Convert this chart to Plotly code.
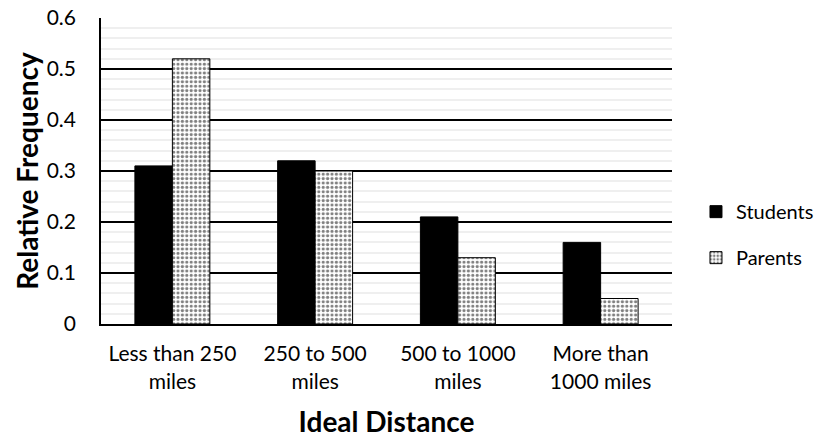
import plotly.graph_objects as go

categories = ["Less than 250<br>miles", "250 to 500<br>miles", "500 to 1000<br>miles", "More than<br>1000 miles"]
students = [0.31, 0.32, 0.21, 0.16]
parents = [0.52, 0.30, 0.13, 0.05]
y_ticks = [0, 0.1, 0.2, 0.3, 0.4, 0.5, 0.6]
y_tick_labels = ["0", "0.1", "0.2", "0.3", "0.4", "0.5", "0.6"]

FONT = "Lato, Open Sans, sans-serif"

fig = go.Figure()
fig.add_trace(go.Bar(
    x=categories, y=students, name="Students",
    marker=dict(color="black", line=dict(color="black", width=1)),
    legendgroup="s",
))
fig.add_trace(go.Bar(
    x=categories, y=parents, name="Parents",
    marker=dict(color="white", line=dict(color="black", width=1),
                pattern=dict(shape=".", fgcolor="black", bgcolor="white", size=4.4, solidity=0.42)),
    legendgroup="p",
))

fig.update_layout(
    width=820, height=440,
    margin=dict(l=101, r=148, t=18, b=116, autoexpand=False),
    paper_bgcolor="white", plot_bgcolor="white",
    barmode="group", bargap=0.475, bargroupgap=0,
    font=dict(family=FONT, size=21, color="black"),
    legend=dict(x=1.042, xanchor="left", y=0.292, yanchor="middle",
                font=dict(size=20), tracegroupgap=17, traceorder="grouped",
                bgcolor="rgba(0,0,0,0)"),
    showlegend=True,
)
fig.update_xaxes(
    automargin=False,
    showline=True, linecolor="black", linewidth=2, ticks="",
    tickfont=dict(size=21), ticklabelstandoff=10, ticklabeloverflow="allow",
    title=dict(text="<b>Ideal Distance</b>", font=dict(size=28), standoff=21),
)
fig.update_yaxes(
    automargin=False,
    range=[0, 0.6], tickvals=y_ticks, ticktext=y_tick_labels,
    showgrid=True, gridcolor="black", gridwidth=1.6,
    minor=dict(dtick=0.02, showgrid=True, gridcolor="#efefef", gridwidth=1.5),
    showline=True, linecolor="black", linewidth=1.6, ticks="",
    tickfont=dict(size=21), ticklabelstandoff=19, ticklabeloverflow="allow",
    title=dict(text="<b>Relative Frequency</b>", font=dict(size=28), standoff=0),
    zeroline=False,
)

fig.write_html("out.html", config={"displayModeBar": False},
               post_script="document.body.style.margin='0';")
